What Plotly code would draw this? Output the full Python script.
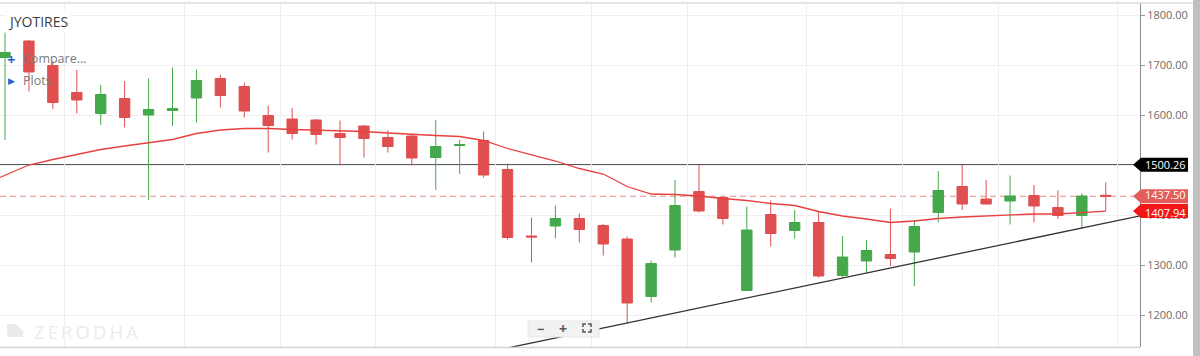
import plotly.graph_objects as go

# ---------------- data ----------------
symbol = "JYOTIRES"
candle_idx = list(range(47))
opens  = [1715, 1748, 1699, 1645, 1603, 1633, 1600, 1609, 1634, 1673,
          1657, 1599, 1592, 1590, 1563, 1578, 1555, 1558, 1515, 1539,
          1549, 1491, 1358, 1378, 1393, 1379, 1352, 1237, 1330, 1447,
          1435, 1249, 1401, 1369, 1385, 1279, 1308, 1321, 1326, 1405,
          1457, 1432, 1428, 1439, 1415, 1399, 1439.5]
highs  = [1765, 1750, 1707, 1690, 1660, 1668, 1673, 1695, 1691, 1680,
          1665, 1619, 1614, 1592, 1589, 1580, 1569, 1560, 1590, 1550,
          1567, 1503, 1395, 1419, 1403, 1382, 1357, 1309, 1470, 1500,
          1437, 1417, 1429, 1410, 1407, 1358, 1350, 1413, 1390, 1488,
          1500, 1470, 1479, 1460, 1449, 1443, 1465]
lows   = [1550, 1647, 1612, 1603, 1580, 1575, 1430, 1578, 1585, 1615,
          1595, 1525, 1551, 1541, 1499, 1515, 1525, 1499, 1450, 1482,
          1475, 1351, 1305, 1353, 1345, 1319, 1183, 1225, 1315, 1405,
          1381, 1248, 1337, 1353, 1275, 1275, 1285, 1298, 1258, 1385,
          1410, 1421, 1381, 1385, 1392, 1373, 1408]
closes = [1725, 1686, 1625, 1630, 1641, 1595, 1611, 1613, 1669, 1639,
          1608, 1579, 1563, 1561, 1555, 1553, 1537, 1514, 1537, 1541,
          1480, 1355, 1356, 1393, 1371, 1342, 1224, 1303, 1419, 1408,
          1393, 1370, 1363, 1385, 1278, 1316, 1329, 1313, 1377, 1449,
          1422, 1422, 1438, 1418, 1399, 1438, 1437.5]

ma_idx = list(range(-1, 47))
ma_values = [1459, 1479, 1500, 1511, 1521, 1531, 1538, 1545, 1551, 1563,
             1570, 1573, 1573, 1571, 1570, 1569, 1567, 1564, 1561, 1559,
             1557, 1549, 1533, 1520, 1508, 1493, 1482, 1457, 1442, 1441,
             1438, 1433, 1429, 1423, 1419, 1407, 1398, 1392, 1385, 1388,
             1393, 1396, 1398, 1401, 1402, 1402, 1405, 1407.94]

trend_x = [21, 47.5]
trend_y = [1134, 1399]

week_breaks = [2.5, 7.5, 11.5, 15.5, 20.5, 24.5, 28.5, 33.5, 37.5, 41.5, 46.5]
y_ticks = [1200, 1300, 1400, 1500, 1600, 1700, 1800]
y_tick_labels = ["1200.00", "1300.00", "1400.00", "1500.00", "1600.00", "1700.00", "1800.00"]

hline_level = 1500.26
last_price = 1437.50
ma_last = 1407.94

# ---------------- styling ----------------
GREEN = "#45a84a"
RED = "#e04f4f"
FONT = "Open Sans"
W, H = 1200, 356
L, R, T, B = 0, 60, 3, 9
PW = W - L - R
PH = H - T - B

def px(x):
    return x / PW

def py(y):
    return (H - B - y) / PH

fig = go.Figure()

fig.add_trace(go.Scatter(
    x=trend_x, y=trend_y, mode="lines",
    line=dict(color="#333333", width=1.3), hoverinfo="skip"))

fig.add_trace(go.Candlestick(
    x=candle_idx, open=opens, high=highs, low=lows, close=closes,
    increasing=dict(line=dict(color=GREEN, width=1), fillcolor=GREEN),
    decreasing=dict(line=dict(color=RED, width=1), fillcolor=RED),
    whiskerwidth=0, hoverinfo="skip"))

fig.add_trace(go.Scatter(
    x=ma_idx, y=ma_values, mode="lines",
    line=dict(color="#e8403f", width=1.3), hoverinfo="skip"))

shapes = []
shapes.append(dict(type="line", xref="paper", yref="y", x0=0, x1=1,
                   y0=hline_level, y1=hline_level,
                   line=dict(color="#222222", width=1.3), layer="below"))
shapes.append(dict(type="line", xref="paper", yref="y", x0=0, x1=1,
                   y0=last_price, y1=last_price,
                   line=dict(color="#ec8a8a", width=1, dash="6px,4px"), layer="below"))
shapes.append(dict(type="line", xref="paper", yref="paper", x0=0, x1=px(1193),
                   y0=py(3), y1=py(3), line=dict(color="#dcdcdc", width=1.5)))
shapes.append(dict(type="line", xref="paper", yref="paper", x0=0, x1=1,
                   y0=py(347.5), y1=py(347.5), line=dict(color="#d2d2d2", width=1.5)))
shapes.append(dict(type="rect", xref="paper", yref="paper", x0=px(1193), x1=px(1201),
                   y0=-0.03, y1=1.02, fillcolor="#c0c0c0", line=dict(width=0),
                   layer="above"))

tag_path = "M -7,0 L 1,7 L 48,7 L 48,-7 L 1,-7 Z"
annotations = []
for val, col, ys in [(hline_level, "#000000", 0), (last_price, "#e35d5d", 1.5),
                     (ma_last, "#f31717", -1.5)]:
    shapes.append(dict(type="path", xref="paper", yref="y",
                       xsizemode="pixel", ysizemode="pixel", xanchor=1, yanchor=val,
                       path=tag_path, fillcolor=col, line=dict(width=0)))
    annotations.append(dict(xref="paper", yref="y", x=1, y=val, xanchor="left",
                            yanchor="middle", xshift=4, yshift=ys, text=f"{val:.2f}",
                            borderpad=0, showarrow=False,
                            font=dict(family=FONT, size=11, color="white")))

shapes.append(dict(type="rect", xref="paper", yref="paper", x0=px(528), x1=px(599),
                   y0=py(337), y1=py(321), fillcolor="#f2f2f2",
                   line=dict(color="#e6e6e6", width=1)))
cx, cy = 587, 328
corner = (f"M {px(cx-4)},{py(cy-1)} L {px(cx-4)},{py(cy-4)} L {px(cx-1)},{py(cy-4)} "
          f"M {px(cx+1)},{py(cy-4)} L {px(cx+4)},{py(cy-4)} L {px(cx+4)},{py(cy-1)} "
          f"M {px(cx+4)},{py(cy+1)} L {px(cx+4)},{py(cy+4)} L {px(cx+1)},{py(cy+4)} "
          f"M {px(cx-1)},{py(cy+4)} L {px(cx-4)},{py(cy+4)} L {px(cx-4)},{py(cy+1)}")
shapes.append(dict(type="path", xref="paper", yref="paper", path=corner,
                   line=dict(color="#555555", width=1.5)))
icon = (f"M {px(7)},{py(324)} L {px(16)},{py(324)} L {px(23)},{py(331)} "
        f"L {px(23)},{py(337)} L {px(7)},{py(337)} Z")
shapes.append(dict(type="path", xref="paper", yref="paper", path=icon,
                   fillcolor="#ebebeb", line=dict(width=0), layer="below"))

annotations += [
    dict(xref="paper", yref="paper", x=px(5), y=py(22), xanchor="left", yanchor="middle",
         text=symbol, showarrow=False, bgcolor="white", borderpad=2,
         font=dict(family=FONT, size=14, color="#3d3d3d")),
    dict(xref="paper", yref="paper", x=px(11), y=py(59), xanchor="center", yanchor="middle",
         text="<b>+</b>", showarrow=False, font=dict(family=FONT, size=15, color="#2566c8")),
    dict(xref="paper", yref="paper", x=px(21), y=py(59), xanchor="left", yanchor="middle",
         text="Compare...", showarrow=False, font=dict(family=FONT, size=12.5, color="#7a7a7a")),
    dict(xref="paper", yref="paper", x=px(11), y=py(81), xanchor="center", yanchor="middle",
         text="▶", showarrow=False, font=dict(family="DejaVu Sans", size=9, color="#2566c8")),
    dict(xref="paper", yref="paper", x=px(21), y=py(81), xanchor="left", yanchor="middle",
         text="Plots", showarrow=False, font=dict(family=FONT, size=12.5, color="#7a7a7a")),
    dict(xref="paper", yref="paper", x=px(32), y=py(331), xanchor="left", yanchor="middle",
         text="Z\u2009E\u2009R\u2009O\u2009D\u2009H\u2009A", showarrow=False,
         font=dict(family=FONT, size=18.5, color="#ebebeb")),
    dict(xref="paper", yref="paper", x=px(540), y=py(328.5), xanchor="center", yanchor="middle",
         text="<b>−</b>", showarrow=False, font=dict(family=FONT, size=13, color="#555555")),
    dict(xref="paper", yref="paper", x=px(563), y=py(328.5), xanchor="center", yanchor="middle",
         text="<b>+</b>", showarrow=False, font=dict(family=FONT, size=14, color="#555555")),
]

fig.update_layout(
    width=W, height=H,
    margin=dict(l=L, r=R, t=T, b=B),
    paper_bgcolor="white", plot_bgcolor="white",
    showlegend=False, hovermode=False,
    boxgap=0.38,
    shapes=shapes, annotations=annotations,
    font=dict(family=FONT),
)
fig.update_xaxes(
    range=[-0.209, 47.43], tickvals=week_breaks, showticklabels=False,
    showgrid=True, gridcolor="#efefef", gridwidth=1, zeroline=False,
    showline=False, ticks="", rangeslider=dict(visible=False), fixedrange=True)
fig.update_yaxes(
    side="right", range=[1136, 1824], tickvals=y_ticks, ticktext=y_tick_labels,
    tickfont=dict(family=FONT, size=11, color="#6b6b6b"),
    ticks="outside", ticklen=4, tickcolor="#999999",
    showline=True, linecolor="#8c8c8c", linewidth=1,
    showgrid=True, gridcolor="#efefef", zeroline=False, fixedrange=True)

fig.write_html(
    "out.html",
    config={"displayModeBar": False},
    post_script="document.body.style.margin='0px';document.body.style.overflow='hidden';",
)
